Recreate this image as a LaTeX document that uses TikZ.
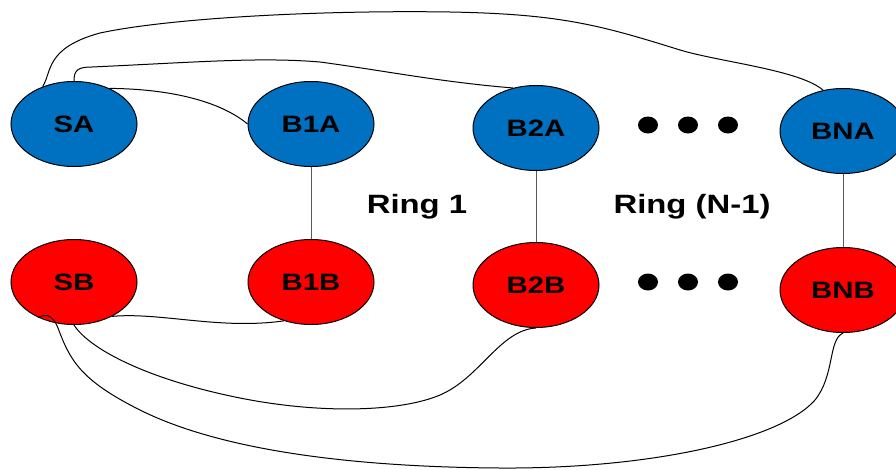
\documentclass[tikz,border=0pt]{standalone}
\usepackage{fontspec}
\setmainfont[FakeStretch=1.24]{Liberation Sans}
\usetikzlibrary{shapes.geometric}
\definecolor{nodeblue}{RGB}{0,112,192}
\definecolor{nodered}{RGB}{255,0,0}
\tikzset{
  ringnode/.style={ellipse, draw=black, line width=1pt, minimum width=126pt,
    minimum height=85pt, inner sep=0pt,
    font=\fontsize{23.7}{28}\selectfont\bfseries},
  anode/.style={ringnode, fill=nodeblue},
  bnode/.style={ringnode, fill=nodered},
  dotnode/.style={ellipse, fill=black, minimum width=20pt, minimum height=17pt, inner sep=0pt},
  ringlabel/.style={font=\fontsize{26.5}{30}\selectfont\bfseries, inner sep=0pt},
  link/.style={draw=black, line width=1pt},
  rung/.style={draw=black!65, line width=0.9pt}
}
\begin{document}
\begin{tikzpicture}[x=1pt, y=-1pt]
\useasboundingbox (0,0) rectangle (896,469);

% nodes of side A (blue) and side B (red)
\node[anode] (SA)  at (74,124)  {SA};
\node[anode] (B1A) at (311,124) {B1A};
\node[anode] (B2A) at (536,128) {B2A};
\node[anode] (BNA) at (843,131) {BNA};
\node[bnode] (SB)  at (74,282)  {SB};
\node[bnode] (B1B) at (311,282) {B1B};
\node[bnode] (B2B) at (536,285) {B2B};
\node[bnode] (BNB) at (843,290) {BNB};

% ellipsis dots
\node[dotnode] (da1) at (648,125) {};
\node[dotnode] (da2) at (688,125) {};
\node[dotnode] (da3) at (728,125) {};
\node[dotnode] (db1) at (648,282) {};
\node[dotnode] (db2) at (688,282) {};
\node[dotnode] (db3) at (728,282) {};

% ring labels
\node[ringlabel] (r1) at (417,207) {Ring 1};
\node[ringlabel] (rn) at (692,207) {Ring (N-1)};

% rungs between the two sides
\draw[rung] (B1A.south) -- (B1B.north);
\draw[rung] (B2A.south) -- (B2B.north);
\draw[rung] (BNA.south) -- (BNB.north);

% links from SA
\draw[link] (SA.130) .. controls (52,72) and (45,48) .. (100,33)
  .. controls (170,18) and (320,10) .. (450,12)
  .. controls (560,14) and (600,25) .. (680,50)
  .. controls (720,62) and (800,70) .. (BNA.116);
\draw[link] (SA.north) .. controls (74,70) and (78,67) .. (92,67)
  .. controls (200,62) and (260,57) .. (320,62)
  .. controls (380,70) and (440,82) .. (B2A.120);
\draw[link] (SA.45) .. controls (180,89) and (225,105) .. (B1A.west);

% links from SB
\draw[link] (SB.318) .. controls (160,312) and (220,330) .. (B1B.235);
\draw[link] (SB.south) .. controls (90,350) and (150,380) .. (240,398)
  .. controls (320,414) and (400,412) .. (440,395)
  .. controls (480,378) and (500,330) .. (B2B.south);
\draw[link] (SB.225) .. controls (48,312) and (54,318) .. (58,328)
  .. controls (70,360) and (80,380) .. (140,410)
  .. controls (220,450) and (350,467) .. (500,468)
  .. controls (650,469) and (780,440) .. (815,400)
  .. controls (835,375) and (828,340) .. (BNB.south);
\end{tikzpicture}
\end{document}
